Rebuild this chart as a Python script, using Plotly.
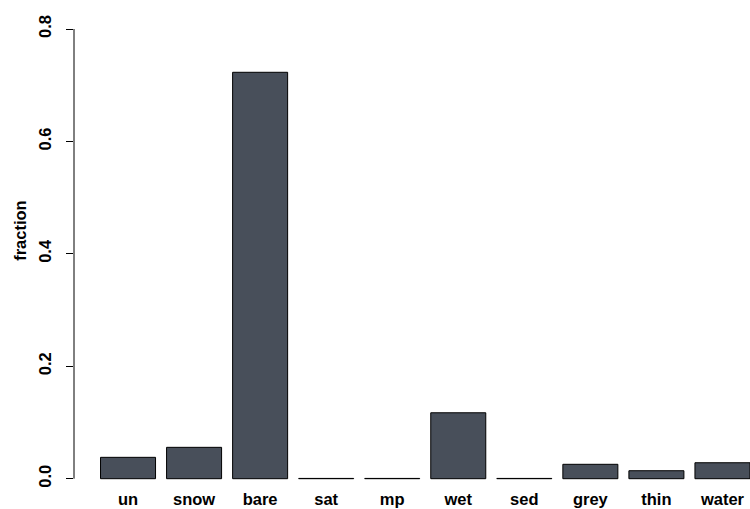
import plotly.graph_objects as go

# Surface-class fractions
categories = ["un", "snow", "bare", "sat", "mp", "wet", "sed", "grey", "thin", "water"]
fractions = [0.038, 0.0558, 0.723, 0.0005, 0.0005, 0.1173, 0.0005, 0.0256, 0.0142, 0.0284]
y_ticks = [0.0, 0.2, 0.4, 0.6, 0.8]
y_tick_labels = ["0.0", "0.2", "0.4", "0.6", "0.8"]

FONT = "Liberation Sans, Arial, sans-serif"
FONT_SIZE = 16.5
BAR_FILL = "#484f5a"

fig = go.Figure(
    go.Bar(
        x=list(range(len(categories))),
        y=fractions,
        width=0.833,
        marker=dict(color=BAR_FILL, line=dict(color="black", width=1)),
        hoverinfo="skip",
    )
)

fig.update_layout(
    width=750,
    height=509,
    margin=dict(l=74, r=0, t=0, b=24),
    paper_bgcolor="white",
    plot_bgcolor="white",
    showlegend=False,
    font=dict(family=FONT, size=FONT_SIZE, color="black"),
    xaxis=dict(
        range=[-0.818, 9.417],
        tickmode="array",
        tickvals=list(range(len(categories))),
        ticktext=[f"<b>{c}</b>" for c in categories],
        showgrid=False,
        zeroline=False,
        showline=False,
        ticks="",
        ticklabelstandoff=2,
        tickfont=dict(family=FONT, size=FONT_SIZE, color="black"),
    ),
    yaxis=dict(
        range=[-0.0112, 0.8516],
        tickmode="array",
        tickvals=y_ticks,
        ticktext=[f"<b>{t}</b>" for t in y_tick_labels],
        tickangle=-90,
        ticks="outside",
        ticklen=7,
        tickwidth=1,
        tickcolor="black",
        showgrid=False,
        zeroline=False,
        showline=False,
        ticklabelstandoff=8,
        tickfont=dict(family=FONT, size=FONT_SIZE, color="black"),
    ),
)

# Axis line spans only the tick range, R style
fig.add_shape(
    type="line",
    xref="paper", yref="y",
    x0=0, x1=0, y0=y_ticks[0], y1=y_ticks[-1],
    line=dict(color="black", width=1),
)

fig.add_annotation(
    text="<b>fraction</b>",
    xref="paper", yref="paper",
    x=-0.08, y=0.526,
    xanchor="center", yanchor="middle",
    textangle=-90,
    showarrow=False,
    font=dict(family=FONT, size=FONT_SIZE, color="black"),
)

fig.write_html("out.html")
